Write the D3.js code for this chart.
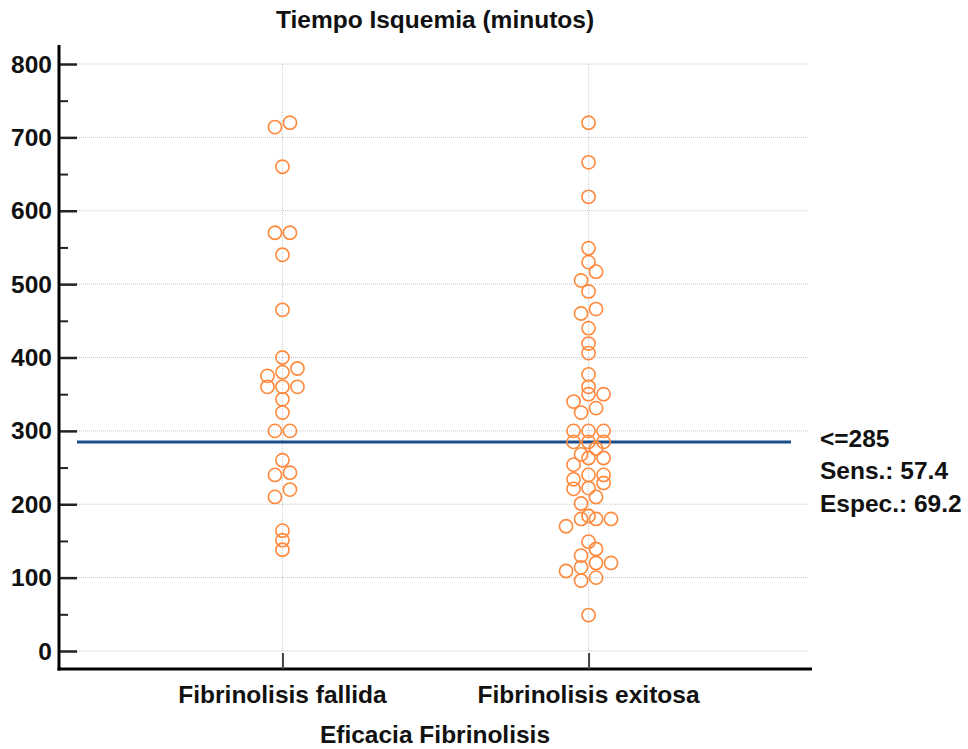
<!DOCTYPE html>
<html>
<head>
<meta charset="utf-8">
<script src="https://cdn.jsdelivr.net/npm/d3@7"></script>
<style>
  body { margin: 0; background: #fff; }
  text { font-family: "Liberation Sans", Arial, sans-serif; font-weight: bold; fill: #111; }
</style>
</head>
<body>
<div id="chart"></div>
<script>
// Tiempo de isquemia (minutos) por grupo
const categories = ["Fibrinolisis fallida", "Fibrinolisis exitosa"];
const fallida = [720, 714, 660, 570, 570, 540, 465, 400, 385, 380, 375, 360, 360, 360,
  343, 325, 300, 300, 260, 243, 240, 220, 210, 164, 151, 138];
const exitosa = [720, 666, 619, 549, 530, 517, 505, 490, 466, 460, 440, 419, 406, 377,
  360, 350, 350, 340, 331, 325, 300, 300, 300, 285, 285, 285, 276, 268, 263, 263, 254,
  240, 240, 234, 229, 222, 221, 210, 201, 184, 180, 180, 180, 170, 149, 139, 130, 120,
  120, 114, 109, 100, 96, 49];
const yTicks = [0, 100, 200, 300, 400, 500, 600, 700, 800];
const cutoff = 285;
const cutoffLabels = ["<=285", "Sens.: 57.4", "Espec.: 69.2"];

const width = 968, height = 749;
const mLeft = 59, mRight = 812, mTop = 64, mBottom = 651, axisY = 669, axisTop = 45;
const fontSize = 24.5;

const svg = d3.select("#chart").append("svg")
  .attr("width", width)
  .attr("height", height);

const y = d3.scaleLinear().domain([0, 800]).range([mBottom, mTop]);
const x = d3.scalePoint().domain(categories).range([mLeft, mRight]).padding(0.73);

// gridlines
svg.append("g")
  .selectAll("line")
  .data(yTicks)
  .join("line")
    .attr("x1", mLeft + 18).attr("x2", mRight - 3)
    .attr("y1", d => y(d)).attr("y2", d => y(d))
    .attr("stroke", "#c8c8c8").attr("stroke-width", 1).attr("stroke-dasharray", "1,1");

svg.append("g")
  .selectAll("line")
  .data(categories)
  .join("line")
    .attr("x1", d => x(d)).attr("x2", d => x(d))
    .attr("y1", mTop).attr("y2", mBottom)
    .attr("stroke", "#d0d0d0").attr("stroke-width", 1.2).attr("stroke-dasharray", "1,1");

// y axis
const yAxis = svg.append("g")
  .attr("transform", `translate(${mLeft},0)`)
  .call(d3.axisRight(y).tickValues(yTicks).tickSize(18).tickFormat(""));
yAxis.select(".domain").remove();
yAxis.selectAll(".tick line").attr("stroke", "#222").attr("stroke-width", 2.5);

const yMinor = svg.append("g")
  .attr("transform", `translate(${mLeft},0)`)
  .call(d3.axisRight(y).tickValues(d3.range(50, 800, 100)).tickSize(9).tickFormat(""));
yMinor.select(".domain").remove();
yMinor.selectAll(".tick line").attr("stroke", "#222").attr("stroke-width", 2);

svg.append("g")
  .selectAll("text")
  .data(yTicks)
  .join("text")
    .attr("x", mLeft - 7)
    .attr("y", d => y(d) + 8.5)
    .attr("text-anchor", "end")
    .attr("font-size", fontSize)
    .text(d => d);

svg.append("line")
  .attr("x1", mLeft).attr("x2", mLeft)
  .attr("y1", axisTop).attr("y2", axisY + 1.5)
  .attr("stroke", "#000").attr("stroke-width", 3);

// x axis
svg.append("line")
  .attr("x1", mLeft - 1.5).attr("x2", mRight)
  .attr("y1", axisY).attr("y2", axisY)
  .attr("stroke", "#000").attr("stroke-width", 3);

const xAxis = svg.append("g")
  .attr("transform", `translate(0,${axisY})`)
  .call(d3.axisTop(x).tickSize(16).tickFormat(""));
xAxis.select(".domain").remove();
xAxis.selectAll(".tick line").attr("stroke", "#444").attr("stroke-width", 2);

svg.append("g")
  .selectAll("text")
  .data(categories)
  .join("text")
    .attr("x", d => x(d))
    .attr("y", 703)
    .attr("text-anchor", "middle")
    .attr("font-size", fontSize)
    .text(d => d);

svg.append("text")
  .attr("x", 435).attr("y", 743)
  .attr("text-anchor", "middle")
  .attr("font-size", fontSize)
  .text("Eficacia Fibrinolisis");

svg.append("text")
  .attr("x", 435).attr("y", 28)
  .attr("text-anchor", "middle")
  .attr("font-size", fontSize)
  .text("Tiempo Isquemia (minutos)");

// cut-off line
svg.append("line")
  .attr("x1", mLeft + 18).attr("x2", 791)
  .attr("y1", y(cutoff)).attr("y2", y(cutoff))
  .attr("stroke", "#1a4d8c").attr("stroke-width", 3);

svg.append("g")
  .selectAll("text")
  .data(cutoffLabels)
  .join("text")
    .attr("x", 820)
    .attr("y", (d, i) => y(cutoff) + 5 + i * 32.5)
    .attr("font-size", fontSize)
    .text(d => d);

// dot layout: values within 12 min of a row's lowest value share a row,
// each row centred on the category line, lowest value on the left
function spread(values, cx) {
  const step = 15, binWidth = 12;
  const sorted = values.slice().sort((a, b) => a - b);
  const rows = [];
  sorted.forEach(v => {
    const row = rows[rows.length - 1];
    if (row && v - row[0] <= binWidth) row.push(v);
    else rows.push([v]);
  });
  return rows.flatMap(row => row.map((v, i) => ({
    x: cx + (i - (row.length - 1) / 2) * step,
    y: y(v)
  })));
}

const points = spread(fallida, x(categories[0])).concat(spread(exitosa, x(categories[1])));

svg.append("g")
  .selectAll("circle")
  .data(points)
  .join("circle")
    .attr("cx", d => d.x)
    .attr("cy", d => d.y)
    .attr("r", 6.6)
    .attr("fill", "none")
    .attr("stroke", "#ff8a3d")
    .attr("stroke-width", 1.6);
</script>
</body>
</html>
